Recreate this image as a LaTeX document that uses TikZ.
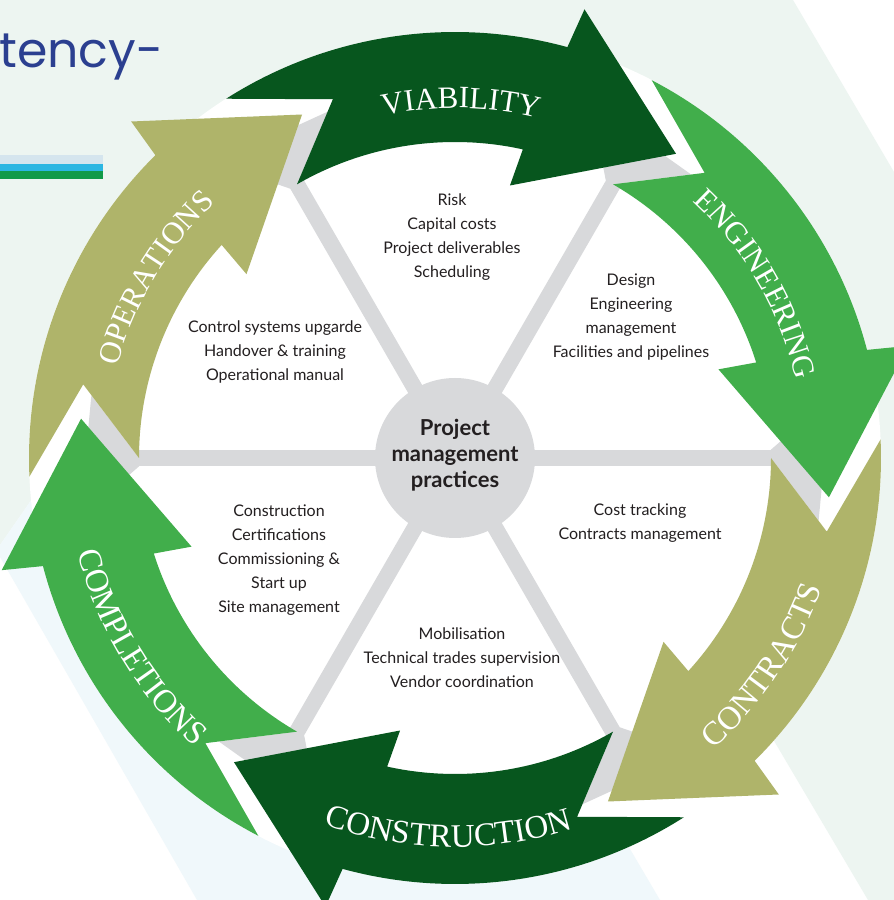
\documentclass[tikz,border=0pt]{standalone}
\usepackage{fontspec}
\setmainfont{Liberation Serif}
\newfontfamily\latofont{Lato}
\newfontfamily\titlefont{Poppins}
\usetikzlibrary{decorations.text}
\definecolor{mint}{HTML}{EDF5F1}
\definecolor{paleblue}{HTML}{F0F8FB}
\definecolor{dkgreen}{HTML}{07561E}
\definecolor{mdgreen}{HTML}{41AE4B}
\definecolor{myolive}{HTML}{AFB46A}
\definecolor{spokegray}{HTML}{D8D9DB}
\definecolor{titleblue}{HTML}{2B3F90}
\definecolor{barlight}{HTML}{D5E5EE}
\definecolor{barcyan}{HTML}{2CB6E2}
\definecolor{bargreen}{HTML}{119A48}
\definecolor{txt}{HTML}{231F20}
\newcommand\arrowlabelfont{\fontsize{31}{31}\selectfont\color{white}}
\newcommand\arrowlabelfontb{\fontsize{33}{33}\selectfont\color{white}}
\begin{document}
\begin{tikzpicture}[x=1pt,y=1pt,
  sect/.style={align=center, font=\latofont\fontsize{16}{24}\selectfont, text=txt, inner sep=0pt},
  hub/.style={align=center, font=\latofont\bfseries\fontsize{22}{26}\selectfont, text=txt, inner sep=0pt},
  outlabel/.style={decorate, decoration={text along path, text align=center, text={#1}}}]
\useasboundingbox (0,0) rectangle (894,900);
\fill[white] (0,0) rectangle (894,900);
% background bands
\fill[mint] (0,900) -- (793,900) -- (894,728) -- (894,0) -- (868,0) -- (607,442) -- (80,470) -- (0,355) -- cycle;
\fill[paleblue] (0,355) -- (80,470) -- (400,442) -- (660,0) -- (197,0) -- (0,343) -- cycle;
% title fragment and bars
\node[anchor=base west, inner sep=0pt, font=\titlefont\fontsize{49}{49}\selectfont, text=titleblue] (title) at (-1,832) {tency-};
\fill[barlight] (0,736) rectangle (103,745);
\fill[barcyan] (0,729) rectangle (103,736);
\fill[bargreen] (0,721) rectangle (103,729);
\begin{scope}[shift={(455,442)}]
\fill[white] (0,0) circle[radius=426];
\foreach \k in {0,60,...,300} {
  \draw[spokegray, line width=16] (0,0) -- ({-\k}:330);
  \fill[spokegray] ({60-\k}:316) -- ({50.2-\k}:369) -- ({56-\k}:368) -- ({64-\k}:334) -- ({61.5-\k}:316) -- cycle;
}
\foreach \k/\c in {0/dkgreen,60/mdgreen,120/myolive,180/dkgreen,240/mdgreen,300/myolive} {
  \fill[\c] ({120-\k}:316) arc[start angle={120-\k}, end angle={77.6-\k}, radius=316]
    -- ({78.6-\k}:278) -- ({54-\k}:376) -- ({73.9-\k}:467) -- ({74.7-\k}:426)
    arc[start angle={74.7-\k}, end angle={122.5-\k}, radius=426] -- ({108.8-\k}:379) -- cycle;
}
\node[circle, fill=spokegray, minimum size=160pt, inner sep=0pt] (hubcircle) at (0,0) {};
\node[hub] (hubtext) at (0,3) {Project\\management\\practices};
% arrow labels
\path[outlabel={|\arrowlabelfont|VIABILITY}] (129:350) arc[start angle=129, end angle=49, radius=350];
\path[outlabel={|\arrowlabelfont|ENGINEERING}] (70:350) arc[start angle=70, end angle=-10, radius=350];
\path[outlabel={|\arrowlabelfont|OPERATIONS}] (189:350) arc[start angle=189, end angle=109, radius=350];
\path[outlabel={|\arrowlabelfontb|CONTRACTS}] (-74:389) arc[start angle=-74, end angle=6, radius=389];
\path[outlabel={|\arrowlabelfontb|CONSTRUCTION}] (229:389) arc[start angle=229, end angle=309, radius=389];
\path[outlabel={|\arrowlabelfontb|COMPLETIONS}] (171:389) arc[start angle=171, end angle=251, radius=389];
\end{scope}
% sector texts
\node[sect] (risk) at (452,663) {Risk\\Capital costs\\Project deliverables\\Scheduling};
\node[sect] (design) at (631,583) {Design\\Engineering\\management\\Facilities and pipelines};
\node[sect] (cost) at (640,377) {Cost tracking\\Contracts management};
\node[sect] (mobil) at (462,242) {Mobilisation\\Technical trades supervision\\Vendor coordination};
\node[sect] (constr) at (279,340) {Construction\\Certifications\\Commissioning \&\\Start up\\Site management};
\node[sect] (control) at (275,548) {Control systems upgarde\\Handover \& training\\Operational manual};
\end{tikzpicture}
\end{document}
